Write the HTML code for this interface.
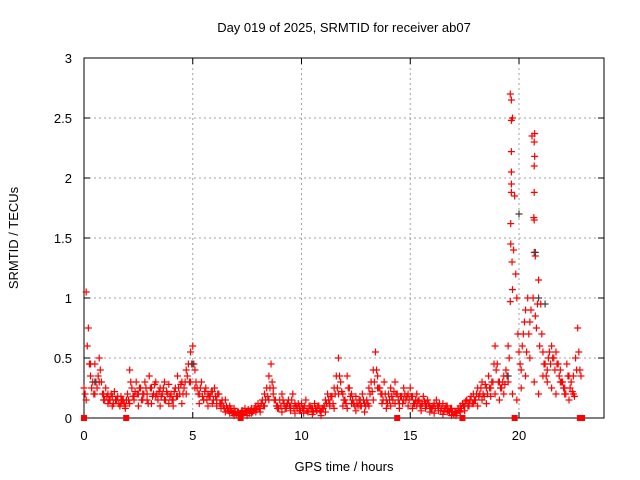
<!DOCTYPE html>
<html><head><meta charset="utf-8"><style>
body{margin:0;background:#fff}
svg{display:block;font-family:"Liberation Sans",sans-serif}
</style></head><body>
<svg id="c" width="640" height="480"></svg>
<script>
const xTicks=[0,5,10,15,20];
const yTicks=[0,0.5,1,1.5,2,2.5,3];
const yTickLabels=["0","0.5","1","1.5","2","2.5","3"];
const seriesA=[0.25,1.05,0.75,0.35,0.30,0.45,0.25,0.50,0.30,0.20,
0.25,0.20,0.15,0.18,0.22,0.15,0.12,0.18,0.15,0.10,
0.20,0.40,0.25,0.15,0.30,0.20,0.25,0.15,0.30,0.20,
0.35,0.25,0.20,0.30,0.15,0.25,0.20,0.30,0.22,0.28,
0.20,0.15,0.25,0.35,0.20,0.30,0.25,0.40,0.45,0.55,
0.60,0.40,0.25,0.20,0.30,0.15,0.25,0.20,0.18,0.22,
0.25,0.15,0.20,0.12,0.10,0.15,0.08,0.10,0.05,0.08,
0.03,0.05,0.04,0.06,0.08,0.05,0.04,0.08,0.06,0.10,
0.12,0.08,0.15,0.20,0.25,0.35,0.45,0.20,0.15,0.10,
0.15,0.20,0.12,0.08,0.15,0.10,0.20,0.12,0.08,0.10,
0.12,0.08,0.15,0.05,0.10,0.08,0.12,0.06,0.10,0.05,
0.08,0.15,0.20,0.12,0.18,0.25,0.35,0.50,0.30,0.20,
0.15,0.35,0.25,0.20,0.12,0.18,0.10,0.15,0.20,0.12,
0.15,0.25,0.30,0.40,0.55,0.35,0.25,0.20,0.30,0.15,
0.20,0.25,0.15,0.30,0.20,0.12,0.18,0.25,0.15,0.20,
0.25,0.18,0.12,0.20,0.15,0.10,0.18,0.12,0.15,0.10,
0.08,0.12,0.15,0.10,0.06,0.12,0.08,0.10,0.05,0.08,
0.03,0.05,0.08,0.10,0.12,0.10,0.15,0.12,0.18,0.20,
0.15,0.25,0.20,0.30,0.18,0.25,0.35,0.25,0.30,0.60,
0.45,0.30,0.25,0.35,0.40,0.60,2.70,2.50,1.85,1.00,
0.55,0.40,0.70,0.90,1.00,0.80,2.35,1.65,0.75,1.15,
0.95,0.55,0.45,0.40,0.55,0.60,0.50,0.55,0.45,0.40,
0.30,0.25,0.45,0.35,0.30,0.20,0.50,0.75,0.40];
const seriesC=[0.20,0.60,0.45,0.25,0.20,0.30,0.35,0.40,0.20,0.15,
0.18,0.15,0.20,0.12,0.15,0.18,0.10,0.15,0.12,0.15,
0.15,0.30,0.18,0.22,0.20,0.25,0.15,0.20,0.25,0.12,
0.25,0.18,0.28,0.20,0.22,0.18,0.25,0.15,0.20,0.18,
0.15,0.22,0.18,0.25,0.28,0.20,0.30,0.35,0.30,0.45,
0.45,0.30,0.20,0.25,0.18,0.22,0.15,0.18,0.22,0.15,
0.18,0.20,0.12,0.15,0.08,0.10,0.06,0.08,0.04,0.05,
0.05,0.03,0.06,0.04,0.05,0.07,0.06,0.05,0.08,0.07,
0.08,0.12,0.10,0.15,0.18,0.25,0.30,0.15,0.10,0.08,
0.10,0.15,0.08,0.12,0.10,0.15,0.08,0.10,0.12,0.06,
0.08,0.10,0.06,0.10,0.08,0.05,0.08,0.10,0.06,0.08,
0.10,0.12,0.15,0.18,0.12,0.20,0.25,0.35,0.22,0.15,
0.12,0.25,0.18,0.15,0.10,0.12,0.15,0.10,0.15,0.10,
0.12,0.20,0.22,0.30,0.40,0.25,0.20,0.15,0.20,0.12,
0.15,0.18,0.22,0.20,0.15,0.18,0.12,0.20,0.18,0.15,
0.18,0.12,0.15,0.14,0.10,0.12,0.14,0.10,0.12,0.08,
0.10,0.08,0.10,0.12,0.08,0.06,0.10,0.06,0.08,0.05,
0.05,0.04,0.06,0.08,0.10,0.14,0.10,0.15,0.12,0.15,
0.20,0.18,0.25,0.20,0.28,0.20,0.25,0.30,0.45,0.40,
0.30,0.25,0.30,0.28,0.35,0.50,1.95,1.40,1.20,0.70,
0.45,0.60,0.80,0.55,0.70,0.90,1.00,0.85,0.95,0.60,
0.70,0.45,0.35,0.50,0.45,0.50,0.40,0.45,0.35,0.30,
0.25,0.20,0.35,0.25,0.22,0.18,0.40,0.55,0.35];
const seriesB=[0.15,0.45,0.20,0.30,0.15,0.12,0.10,0.15,0.12,0.08,
0.12,0.18,0.10,0.20,0.15,0.12,0.18,0.10,0.15,0.12,
0.10,0.18,0.12,0.20,0.30,0.25,0.12,0.15,0.10,0.12,
0.10,0.08,0.05,0.04,0.02,0.02,0.03,0.02,0.04,0.05,
0.05,0.10,0.15,0.25,0.08,0.05,0.10,0.06,0.04,0.06,
0.04,0.05,0.03,0.06,0.02,0.05,0.10,0.08,0.20,0.10,
0.08,0.12,0.06,0.10,0.05,0.10,0.15,0.25,0.12,0.08,
0.10,0.12,0.08,0.15,0.10,0.08,0.10,0.06,0.08,0.05,
0.04,0.06,0.03,0.05,0.02,0.02,0.05,0.06,0.10,0.12,
0.10,0.15,0.12,0.18,0.20,0.15,0.20,0.30,0.20,0.15,
0.25,0.35,0.50,0.30,0.20,0.35,0.30,0.25,0.20,0.30,
0.20,0.15,0.35];
const spikeT=[19.65,19.65,19.65,19.65,19.65,19.62,19.62,19.68,19.7,19.6,20.72,20.7,20.72,20.7,20.7,20.68,20.7,20.75];
const spikeV=[2.65,2.48,2.22,2.05,1.88,1.62,1.45,1.30,1.07,0.97,2.37,2.30,2.18,2.10,1.88,1.67,1.38,1.35];
const darkT=[20.0,20.75,20.9,21.2,19.5,0.5,5.0];
const darkV=[1.70,1.38,1.00,0.95,0.35,0.30,0.45];
const gapT=[0.0,1.94,7.2,14.4,17.4,19.8,22.8,22.9];

const svg=document.getElementById('c');const NS='http://www.w3.org/2000/svg';
const L=84,R=604,T=58,B=418,PXH=21.75;
const xs=v=>L+v*PXH, ys=v=>B-v/3*(B-T);
function mk(tag,a,p){const e=document.createElementNS(NS,tag);for(const k in a)e.setAttribute(k,a[k]);(p||svg).appendChild(e);return e;}
xTicks.forEach(t=>{if(t>0){const g=mk('line',{x1:xs(t),x2:xs(t),y1:T,y2:B,stroke:'#a0a0a0','stroke-dasharray':'2,3'});

}
const tk=mk('text',{x:xs(t),y:B+22,'text-anchor':'middle','font-size':13,fill:'#000'});tk.textContent=t;


mk('line',{x1:xs(t),x2:xs(t),y1:B,y2:B-6,stroke:'#000'});mk('line',{x1:xs(t),x2:xs(t),y1:T,y2:T+6,stroke:'#000'});});
yTicks.forEach((t,i)=>{if(t>0&&t<3){const g=mk('line',{x1:L,x2:R,y1:ys(t),y2:ys(t),stroke:'#a0a0a0','stroke-dasharray':'2,3'});

}
const tk=mk('text',{x:L-12,y:ys(t)+5,'text-anchor':'end','font-size':13,fill:'#000'});tk.textContent=yTickLabels[i];


mk('line',{x1:L,x2:L+6,y1:ys(t),y2:ys(t),stroke:'#000'});mk('line',{x1:R,x2:R-6,y1:ys(t),y2:ys(t),stroke:'#000'});});
const fr=mk('rect',{x:L,y:T,width:R-L,height:B-T,fill:'none',stroke:'#000'});


function plus(t,v,col,name){const x=xs(t),y=ys(v);const p=mk('path',{d:`M${x-3.5},${y}h7M${x},${y-3.5}v7`,stroke:col,'stroke-width':1.2,fill:'none'});

}
seriesA.forEach((v,i)=>plus(i*0.1,v,'#ff0000','srmtid-point'));
seriesC.forEach((v,i)=>plus(0.05+i*0.1,v,'#ff0000','srmtid-point'));
seriesB.forEach((v,i)=>plus(0.1+i*0.2,v,'#ff0000','srmtid-point'));
spikeT.forEach((t,i)=>plus(t,spikeV[i],'#ff0000','srmtid-point'));
darkT.forEach((t,i)=>plus(t,darkV[i],'#404040','srmtid-point-dark'));
gapT.forEach(t=>{const r=mk('rect',{x:xs(t)-3,y:B-3,width:6,height:6,fill:'#ff0000'});

});
function txt(s,a,name){const e=mk('text',Object.assign({'font-size':13,fill:'#000','text-anchor':'middle'},a));e.textContent=s;

}
txt('Day 019 of 2025, SRMTID for receiver ab07',{x:344,y:32},'chart-title');
txt('GPS time / hours',{x:344,y:471},'x-axis-title');
txt('SRMTID / TECUs',{x:18,y:238,transform:'rotate(-90 18 238)'},'y-axis-title');
</script>
</body></html>
